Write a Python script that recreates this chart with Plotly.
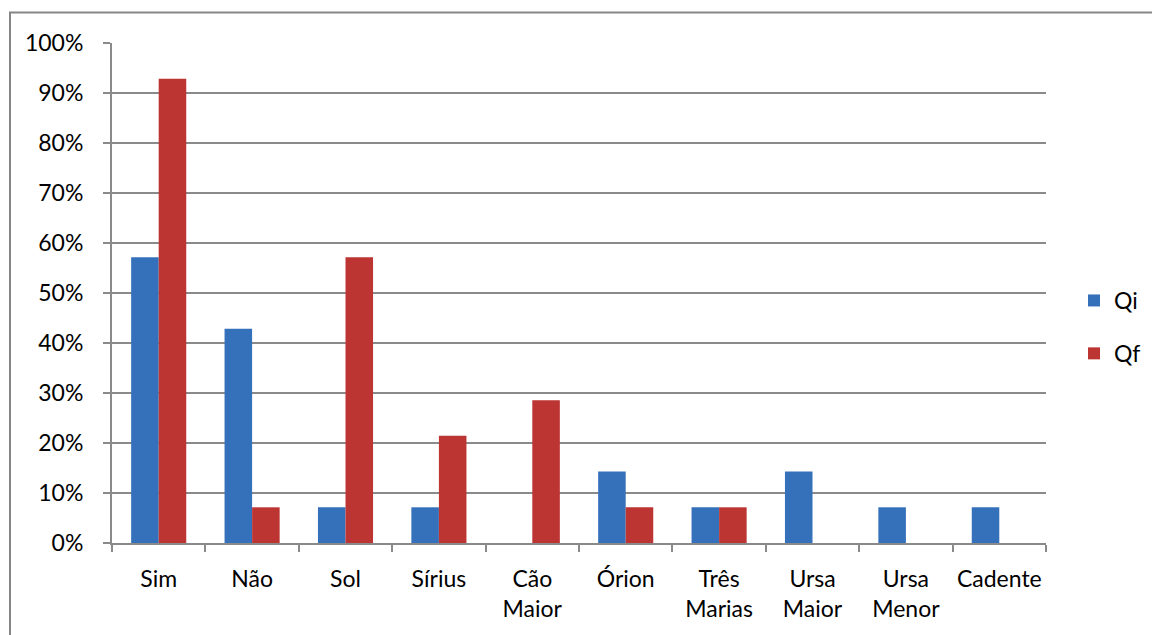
import plotly.graph_objects as go

# Categories and the share of answers in each questionnaire
categories = ["Sim", "Não", "Sol", "Sírius", "Cão<br>Maior", "Órion",
              "Três<br>Marias", "Ursa<br>Maior", "Ursa<br>Menor", "Cadente"]
qi_values = [0.5714, 0.4286, 0.0714, 0.0714, 0.0, 0.1429, 0.0714, 0.1429, 0.0714, 0.0714]
qf_values = [0.9286, 0.0714, 0.5714, 0.2143, 0.2857, 0.0714, 0.0714, 0.0, 0.0, 0.0]
series_names = ["Qi", "Qf"]
series_colors = ["#3571BA", "#BD3533"]

W, H = 1152, 635
L, R, T, B = 112, 106, 43, 92
pw, ph = W - L - R, H - T - B

fig = go.Figure()
for name, vals, col in zip(series_names, [qi_values, qf_values], series_colors):
    fig.add_trace(go.Bar(
        x=categories, y=vals, name=name, legendgroup=name,
        marker=dict(color=col, line=dict(width=0)),
    ))

grid = "#8A8A8A"
font = "Lato, 'Open Sans', sans-serif"

fig.update_layout(
    width=W, height=H,
    margin=dict(l=L, r=R, t=T, b=B, autoexpand=False),
    paper_bgcolor="white", plot_bgcolor="white",
    barmode="group", bargap=0.41, bargroupgap=0,
    font=dict(family=font, size=23, color="black"),
    showlegend=True,
    legend=dict(
        x=(1074 - L) / pw, xanchor="left",
        y=(543 - 327) / ph, yanchor="middle",
        traceorder="grouped", tracegroupgap=20,
        font=dict(size=23), bgcolor="rgba(0,0,0,0)",
    ),
    xaxis=dict(
        type="category", showgrid=False, showline=True, linecolor=grid, linewidth=2,
        ticks="outside", tickson="boundaries", ticklen=7, tickwidth=2, tickcolor=grid,
        ticklabelstandoff=14, tickangle=0,
    ),
    yaxis=dict(
        range=[0, 1], dtick=0.1, tickformat=".0%",
        showgrid=True, gridcolor=grid, gridwidth=1.5,
        showline=True, linecolor=grid, linewidth=2,
        ticks="outside", ticklen=7, tickwidth=1.5, tickcolor=grid,
        ticklabelstandoff=15, zeroline=False,
    ),
    shapes=[dict(
        type="rect", xref="paper", yref="paper",
        x0=(10 - L) / pw, x1=(W + 20 - L) / pw,
        y0=(543 - (H + 20)) / ph, y1=(543 - 12.5) / ph,
        line=dict(color="#868686", width=2), fillcolor="rgba(0,0,0,0)", layer="below",
    )],
)

fig.write_html("out.html")
